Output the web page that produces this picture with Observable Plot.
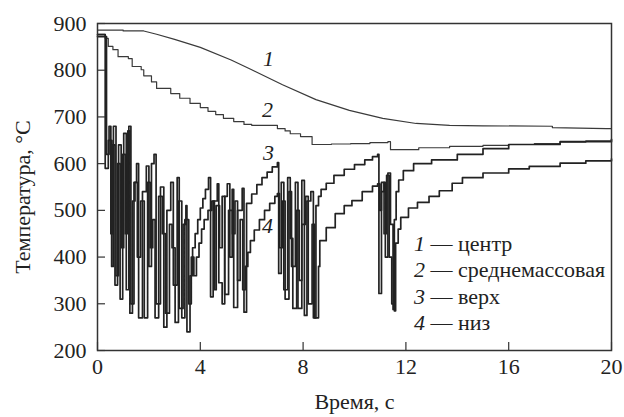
<!DOCTYPE html>
<html><head><meta charset="utf-8">
<script src="https://cdn.jsdelivr.net/npm/d3@7"></script>
<script src="https://cdn.jsdelivr.net/npm/@observablehq/plot@0.6"></script>
<style>body{margin:0;background:#fff}</style>
</head><body><div id="chart"></div>
<script>
const xTicks = [0, 4, 8, 12, 16, 20];
const yTicks = [200, 300, 400, 500, 600, 700, 800, 900];
const xTitle = "Время, с";
const yTitle = "Температура, °C";
const curveNames = ["1", "2", "3", "4"];
const legendNames = ["центр", "среднемассовая", "верх", "низ"];

// 1 — центр
const center = [[0,886],[1.0,886],[1.0,884],[1.8,884],[2.3,877],[3.0,866],[4.0,849],[5.2,822],[6.0,801],[7.2,769],[8.5,737],[9.8,714],[11.1,697],[12.4,686],[13.7,682],[15,681],[17.7,680],[17.7,677],[19.8,675],[20,675]];
// 2 — среднемассовая
const mean = [[0,877],[0.3,868],[0.42,851],[0.6,844],[0.8,829],[1.2,825],[1.35,808],[1.7,801],[1.8,788],[2.1,775],[2.3,761],[2.85,750],[3.2,740],[3.6,729],[4.0,720],[4.3,712],[4.6,705],[4.9,697],[5.3,690],[5.7,684],[6.0,682],[7.0,675],[7.3,670],[7.5,664],[7.9,658],[8.35,641],[9.1,642],[9.85,643],[10.6,645],[11.3,647],[11.4,630],[12.5,634],[13.7,637],[15,639],[16,641],[17,643],[18,646],[19,649],[20,652]];
// 3 — верх
const top3 = [[0,876],[0.3,590],[0.42,650],[0.55,380],[0.62,680],[0.72,360],[0.82,640],[0.92,420],[1.02,665],[1.12,330],[1.22,680],[1.3,300],[1.42,560],[1.52,600],[1.6,270],[1.75,540],[1.9,595],[2.0,380],[2.1,600],[2.2,620],[2.28,300],[2.45,550],[2.58,250],[2.7,500],[2.85,560],[2.95,340],[3.1,570],[3.18,290],[3.33,470],[3.44,510],[3.48,240],[3.6,360],[3.7,420],[3.8,450],[3.9,480],[4.0,505],[4.1,525],[4.2,545],[4.32,570],[4.4,315],[4.5,520],[4.66,557],[4.72,345],[4.85,300],[4.95,530],[5.05,557],[5.15,400],[5.24,545],[5.3,292],[5.45,500],[5.63,547],[5.7,282],[5.8,515],[6.0,535],[6.2,555],[6.4,570],[6.6,582],[6.8,593],[7.0,602],[7.05,365],[7.15,560],[7.25,330],[7.4,570],[7.5,440],[7.6,290],[7.75,500],[7.85,350],[7.95,564],[8.05,275],[8.15,520],[8.3,540],[8.4,270],[8.5,510],[8.6,530],[8.7,545],[8.9,558],[9.2,575],[9.6,588],[10.0,598],[10.4,608],[10.7,615],[10.9,620],[10.95,322],[11.05,540],[11.15,560],[11.2,400],[11.3,580],[11.4,470],[11.5,288],[11.55,480],[11.62,540],[11.72,565],[11.9,585],[12.3,600],[13,608],[14,620],[15,632],[16,641],[18,647],[20,652]];
// 4 — низ
const bottom4 = [[0,872],[0.35,620],[0.45,680],[0.52,450],[0.58,640],[0.68,340],[0.78,600],[0.88,310],[0.98,620],[1.08,450],[1.18,670],[1.26,280],[1.36,520],[1.46,560],[1.55,400],[1.68,520],[1.82,270],[1.95,560],[2.05,420],[2.15,480],[2.24,270],[2.38,530],[2.52,450],[2.64,280],[2.8,470],[2.9,420],[3.02,260],[3.15,520],[3.28,270],[3.4,480],[3.55,300],[3.65,400],[3.75,360],[3.85,400],[3.95,430],[4.05,460],[4.15,480],[4.3,500],[4.45,520],[4.55,330],[4.62,510],[4.75,420],[4.85,530],[4.95,320],[5.1,500],[5.25,450],[5.35,520],[5.45,350],[5.55,480],[5.65,330],[5.75,380],[5.85,410],[5.95,435],[6.1,458],[6.3,480],[6.5,500],[6.7,515],[6.9,530],[7.0,536],[7.08,420],[7.2,520],[7.3,310],[7.45,540],[7.55,380],[7.7,560],[7.8,290],[7.95,470],[8.1,530],[8.2,300],[8.35,470],[8.45,270],[8.6,380],[8.65,435],[8.9,463],[9.25,493],[9.6,510],[9.9,521],[10.3,540],[10.7,552],[10.9,557],[10.98,500],[11.05,560],[11.15,450],[11.25,575],[11.35,400],[11.45,300],[11.55,285],[11.6,430],[11.7,460],[11.8,485],[12.1,505],[12.45,517],[12.9,530],[13.3,542],[13.8,558],[14.2,570],[15,580],[16,589],[16.8,594],[18,601],[19,606],[20,610]];

// label anchor points (data units)
const curveLabelX = [6.65, 6.61, 6.65, 6.61];
const curveLabelY = [825, 714, 622, 467];
const legendY = [429, 373, 315, 260];

const ink = "#222";

const chart = Plot.plot({
  width: 624, height: 417,
  marginLeft: 97, marginRight: 13, marginTop: 23, marginBottom: 67,
  style: "font-family:'Liberation Serif';font-size:22px;background:#fff;color:#222",
  x: {domain: [0, 20], ticks: xTicks},
  y: {domain: [200, 900], ticks: yTicks},
  marks: [
    Plot.line(center, {x: d => d[0], y: d => d[1], stroke: "#3a3a3a", strokeWidth: 1.2}),
    Plot.line(mean, {x: d => d[0], y: d => d[1], curve: "step-after", stroke: "#3a3a3a", strokeWidth: 1.2}),
    Plot.line(top3, {x: d => d[0], y: d => d[1], curve: "step-after", stroke: ink, strokeWidth: 1.7}),
    Plot.line(bottom4, {x: d => d[0], y: d => d[1], curve: "step-after", stroke: ink, strokeWidth: 1.7}),
    Plot.frame({stroke: "#333", strokeWidth: 1.5}),
    Plot.axisX({ticks: xTicks, tickSize: -8, tickFormat: () => "", label: null, stroke: "#333", strokeWidth: 1.2}),
    Plot.axisY({ticks: yTicks, tickSize: -8, tickFormat: () => "", label: null, stroke: "#333", strokeWidth: 1.2}),
    Plot.axisX({ticks: xTicks, tickSize: 0, tickPadding: 8, label: null, fill: ink}),
    Plot.axisY({ticks: yTicks, tickSize: 0, tickPadding: 11, label: null, fill: ink}),
    Plot.text([xTitle], {frameAnchor: "bottom", dy: 51, lineAnchor: "middle", textAnchor: "middle", text: d => d, fill: ink}),
    Plot.text([yTitle], {frameAnchor: "left", dx: -75, dy: 10, rotate: -90, lineAnchor: "middle", textAnchor: "middle", text: d => d, fill: ink}),
    Plot.text(curveNames, {x: (d, i) => curveLabelX[i], y: (d, i) => curveLabelY[i], text: d => d, fontStyle: "italic", fill: ink}),
    Plot.text(curveNames, {x: 12.53, y: (d, i) => legendY[i], text: d => d, fontStyle: "italic", fill: ink}),
    Plot.text(legendNames, {x: 12.96, y: (d, i) => legendY[i], text: d => "— " + d, textAnchor: "start", fill: ink})
  ]
});
chart.querySelectorAll("text, g").forEach(t => {
  t.setAttribute("font-family", "Liberation Serif");
  t.style.setProperty("font-family", "'Liberation Serif'", "important");
  t.style.setProperty("font-size", "22px", "important");
});
chart.style.setProperty("font-family", "'Liberation Serif'", "important");
document.getElementById("chart").appendChild(chart);
</script>
</body></html>
